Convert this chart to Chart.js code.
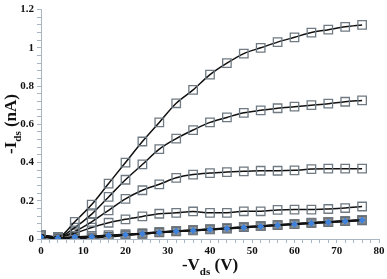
<!DOCTYPE html>
<html>
<head>
<meta charset="utf-8">
<script src="https://cdn.jsdelivr.net/npm/chart.js@4.4.1/dist/chart.umd.min.js"></script>
<style>
  html, body { margin: 0; padding: 0; background: #fff; }
  #wrap { width: 387px; height: 279px; }
</style>
</head>
<body>
<div id="wrap"><canvas id="ids-vds"></canvas></div>
<script>
// drain voltage steps (-Vds, V)
const vds = [0, 4, 8, 12, 16, 20, 24, 28, 32, 36, 40, 44, 48, 52, 56, 60, 64, 68, 72, 76];

// -Ids (nA) for each gate voltage
const curveA = [0.02, 0.01, 0.09, 0.18, 0.29, 0.40, 0.51, 0.61, 0.71, 0.78, 0.86, 0.92, 0.97, 1.00, 1.03, 1.055, 1.08, 1.095, 1.11, 1.12];
const curveB = [0.02, 0.01, 0.06, 0.13, 0.22, 0.31, 0.39, 0.47, 0.525, 0.57, 0.61, 0.636, 0.66, 0.673, 0.684, 0.692, 0.70, 0.708, 0.718, 0.725];
const curveC = [0.02, 0.01, 0.04, 0.09, 0.15, 0.21, 0.255, 0.286, 0.32, 0.337, 0.345, 0.35, 0.354, 0.357, 0.357, 0.359, 0.366, 0.368, 0.368, 0.368];
const curveD = [0.02, 0.01, 0.03, 0.06, 0.085, 0.103, 0.118, 0.132, 0.137, 0.144, 0.137, 0.137, 0.145, 0.145, 0.152, 0.154, 0.154, 0.157, 0.162, 0.17];
const curveE = [0.02, 0.005, 0.01, 0.015, 0.02, 0.025, 0.03, 0.037, 0.042, 0.047, 0.052, 0.057, 0.063, 0.068, 0.074, 0.079, 0.085, 0.09, 0.095, 0.10];
const curveF = [0.02, 0.0, 0.0, 0.005, 0.012, 0.02, 0.027, 0.035, 0.04, 0.045, 0.05, 0.055, 0.062, 0.067, 0.073, 0.078, 0.084, 0.088, 0.093, 0.098];
const curveG = [0.01, 0.005, 0.01, 0.012, 0.018, 0.022, 0.028, 0.034, 0.04, 0.045, 0.05, 0.055, 0.06, 0.066, 0.072, 0.077, 0.083, 0.088, 0.093, 0.098];

const axisColor = "#a9b6c2";
const serif = "'Liberation Serif', 'Times New Roman', serif";

function toPoints(ys) {
    let pts = []
    for (let i = 0; i < vds.length; i++)
        pts.push({ x: vds[i], y: ys[i] });
    return pts;
}

function openSquares(ys) {
    return {
        data: toPoints(ys),
        borderColor: "#111",
        borderWidth: 1.5,
        tension: 0.4,
        cubicInterpolationMode: 'monotone',
        pointStyle: 'rect',
        pointRadius: 6,
        pointBorderWidth: 1.3,
        pointBorderColor: "#6f7a82",
        pointBackgroundColor: "rgba(255,255,255,0)"
    };
}

const datasets = [
    openSquares(curveA),
    openSquares(curveB),
    openSquares(curveC),
    openSquares(curveD),
    openSquares(curveE),
    Object.assign(openSquares(curveF), { pointBackgroundColor: "#8f9396", pointBorderColor: "#55595c", borderWidth: 2 }),
    {
        data: toPoints(curveG),
        order: -1, // keep the blue markers on top
        borderColor: "#111",
        borderWidth: 2,
        tension: 0.4,
        cubicInterpolationMode: 'monotone',
        pointStyle: 'rectRot',
        pointRadius: 3.5,
        pointBorderWidth: 0,
        pointBackgroundColor: "#3f82dc"
    }
];

// draws "main" + subscript + tail, centred on (x, y), optionally rotated
function drawSubLabel(ctx, main, sub, tail, x, y, angle) {
    ctx.save();
    ctx.translate(x, y);
    ctx.rotate(angle);
    ctx.fillStyle = "#111";
    ctx.textBaseline = 'middle';
    ctx.textAlign = 'left';
    const bigFont = "bold 17px " + serif;
    const smallFont = "bold 11px " + serif;
    ctx.font = bigFont;
    const w1 = ctx.measureText(main).width;
    const w3 = ctx.measureText(tail).width;
    ctx.font = smallFont;
    const w2 = ctx.measureText(sub).width;
    let start = -(w1 + w2 + w3) / 2;
    ctx.font = bigFont;
    ctx.fillText(main, start, 0);
    ctx.font = smallFont;
    ctx.fillText(sub, start + w1, 6);
    ctx.font = bigFont;
    ctx.fillText(tail, start + w1 + w2, 0);
    ctx.restore();
}

const axisTitles = {
    id: 'axisTitles',
    afterDraw(chart) {
        const ctx = chart.ctx;
        drawSubLabel(ctx, "-I", "ds", " (nA)", 12, 124, -Math.PI / 2);
        drawSubLabel(ctx, "-V", "ds", " (V)", 210, 266, 0);
    }
};

function isMajor(v, step) {
    return Math.abs(v / step - Math.round(v / step)) < 1e-6;
}

const config = {
    type: 'line',
    data: { datasets: datasets },
    options: {
        responsive: true,
        maintainAspectRatio: false,
        animation: false,
        layout: { padding: { top: 5, right: 8, left: 0, bottom: 0 } },
        plugins: {
            legend: { display: false },
            tooltip: { enabled: false }
        },
        scales: {
            x: {
                type: 'linear',
                min: 0,
                max: 80,
                border: { color: axisColor, width: 1 },
                grid: { drawOnChartArea: false, tickLength: 4, tickColor: axisColor },
                ticks: {
                    stepSize: 2,
                    autoSkip: false,
                    maxRotation: 0,
                    padding: 2,
                    color: "#111",
                    font: { family: serif, size: 11, weight: 'bold' },
                    callback: (v) => isMajor(v, 10) ? String(v) : ''
                },
                afterFit: (scale) => { scale.height = 40; }
            },
            y: {
                min: 0,
                max: 1.2,
                border: { color: axisColor, width: 1 },
                grid: { drawOnChartArea: false, tickLength: 4, tickColor: axisColor },
                ticks: {
                    stepSize: 0.04,
                    autoSkip: false,
                    padding: 3,
                    color: "#111",
                    font: { family: serif, size: 11, weight: 'bold' },
                    callback: (v) => isMajor(v, 0.2) ? String(Math.round(v * 10) / 10) : ''
                },
                afterFit: (scale) => { scale.width = 41; }
            }
        }
    },
    plugins: [axisTitles]
};

const myChart = new Chart(document.getElementById('ids-vds'), config);
</script>
</body>
</html>
